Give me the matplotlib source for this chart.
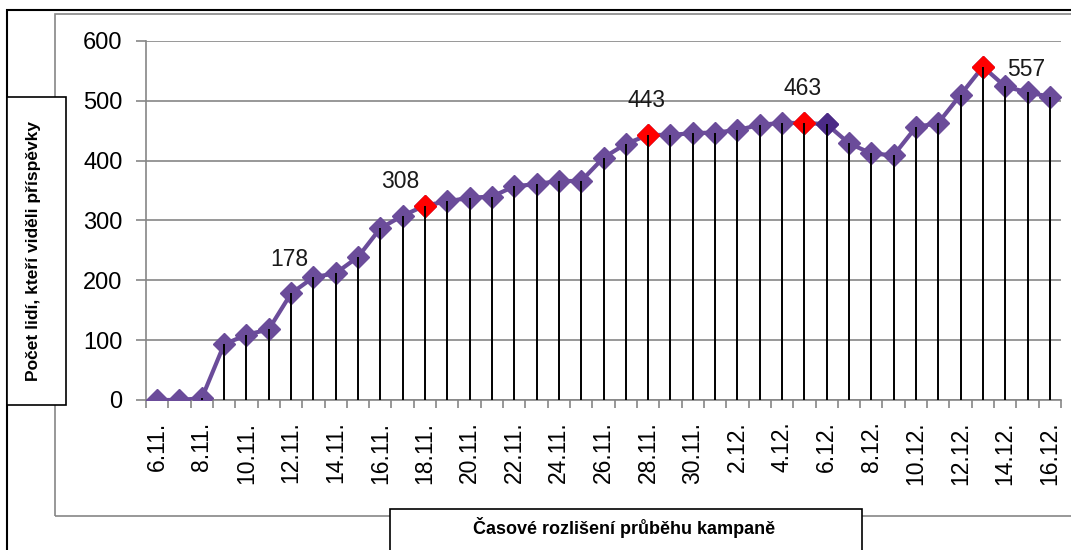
import numpy as np
from matplotlib import pyplot as plt
from matplotlib.patches import Rectangle

plt.rcParams['font.family'] = ['Liberation Sans', 'DejaVu Sans']

# daily values 6.11. - 16.12.
days = ["6.11.", "7.11.", "8.11.", "9.11.", "10.11.", "11.11.", "12.11.", "13.11.",
        "14.11.", "15.11.", "16.11.", "17.11.", "18.11.", "19.11.", "20.11.", "21.11.",
        "22.11.", "23.11.", "24.11.", "25.11.", "26.11.", "27.11.", "28.11.", "29.11.",
        "30.11.", "1.12.", "2.12.", "3.12.", "4.12.", "5.12.", "6.12.", "7.12.",
        "8.12.", "9.12.", "10.12.", "11.12.", "12.12.", "13.12.", "14.12.", "15.12.",
        "16.12."]
values = [0, 0, 3, 93, 109, 118, 178, 205, 212, 239, 287, 308, 325, 332, 338, 340,
          357, 361, 366, 366, 405, 428, 443, 443, 446, 447, 451, 460, 463, 463,
          461, 429, 412, 409, 456, 463, 510, 557, 524, 514, 507]
red_points = [12, 22, 29, 37]
dark_points = [30]
labelled = [6, 11, 22, 29, 37]

purple = "#6B4C9A"
grey = "#868686"

x = np.arange(len(values))
vals = np.array(values)

fig = plt.figure(figsize=(10.71, 5.5), dpi=100)
W, H = 1071.0, 550.0

def px(x0, y0, x1, y1):
    # pixel box -> figure fraction rect
    return (x0 / W, 1 - y1 / H, (x1 - x0) / W, (y1 - y0) / H)

def box(x0, y0, x1, y1, **kw):
    r = px(x0, y0, x1, y1)
    fig.add_artist(Rectangle(r[:2], r[2], r[3], transform=fig.transFigure, **kw))

# frames
box(7, 10, 1090, 570, fill=False, ec="black", lw=1.5)
box(55, 14, 1090, 516, fill=False, ec=grey, lw=1.2)

ax = fig.add_axes(px(146, 41, 1061, 400))
ax.set_xlim(-0.5, len(values) - 0.5)
ax.set_ylim(0, 600)

ax.plot(x, vals, color=purple, lw=3, marker="D", ms=11, mfc=purple, mec=purple, zorder=3)
ax.plot(x[red_points], vals[red_points], "D", ms=11, color="#FF0000", zorder=4)
ax.plot(x[dark_points], vals[dark_points], "D", ms=11, color="#4B2A86", zorder=4)
ax.vlines(x, 0, vals, color="black", lw=1.4, zorder=5)

for i in labelled:
    if i == labelled[-1]:
        off = (31, -2)
    else:
        off = (-1.5, 24.5)
    ax.annotate(str(values[i]), (x[i], vals[i]), xytext=off, textcoords="offset points",
                ha="center", va="center", fontsize=16.5, color="#1a1a1a")

ax.set_yticks(np.arange(0, 601, 100))
ax.yaxis.grid(True, color=grey, lw=1.2)
ax.set_axisbelow(True)
for s in ["top", "right"]:
    ax.spines[s].set_visible(False)
for s in ["left", "bottom"]:
    ax.spines[s].set_color(grey)
    ax.spines[s].set_linewidth(1.2)

ax.set_xticks(np.arange(-0.5, len(values), 1.0))
ax.set_xticklabels([])
ax.set_xticks(x[::2], days[::2], minor=True)
ax.tick_params(axis="x", which="major", length=6, color=grey, width=1.2)
ax.tick_params(axis="x", which="minor", length=0, pad=15.5, labelsize=16.5, rotation=90)
ax.tick_params(axis="y", length=7, color=grey, width=1.2, pad=10, labelsize=17)

# axis title boxes
box(7, 97, 66, 405, fc="white", ec="black", lw=1.2)
fig.text(34 / W, 1 - 251 / H, "Počet lidí, kteří viděli příspěvky",
         rotation=90, ha="center", va="center", fontsize=12.5, fontweight="bold")
box(390, 509, 862, 570, fc="white", ec="black", lw=1.2)
fig.text(624 / W, 1 - 527 / H, "Časové rozlišení průběhu kampaně",
         ha="center", va="center", fontsize=13, fontweight="bold")

fig.savefig("out.png", dpi=100)
